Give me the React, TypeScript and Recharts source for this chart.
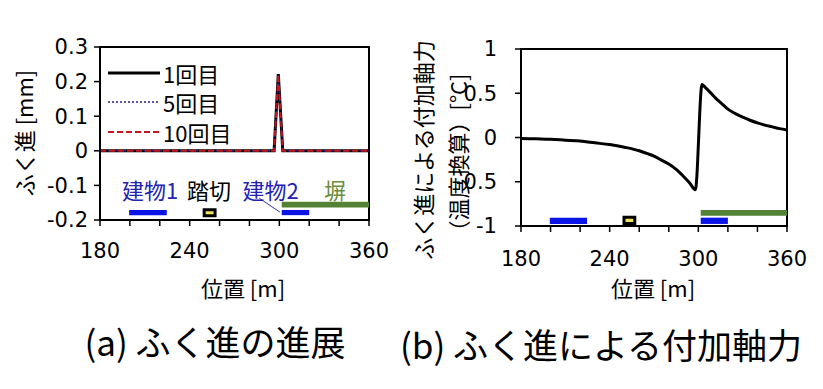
import {
  Legend,
  Line,
  LineChart,
  ReferenceArea,
  ReferenceDot,
  ReferenceLine,
  XAxis,
  YAxis,
} from "recharts";

// (a) ふく進の進展
const positionA = [180, 200, 220, 240, 260, 280, 296.5, 299.3, 302.3, 320, 340, 360];
const creep1 = [0, 0, 0, 0, 0, 0, 0, 0.222, 0, 0, 0, 0];
const creep5 = [0, 0, 0, 0, 0, 0, 0, 0.221, 0, 0, 0, 0];
const creep10 = [0, 0, 0, 0, 0, 0, 0, 0.22, 0, 0, 0, 0];
const seriesNames = ["1回目", "5回目", "10回目"];

// (b) ふく進による付加軸力
const positionB = [
  180, 190, 200, 210, 220, 230, 240, 250, 260, 265, 270, 275, 280, 285, 290, 294, 298,
  302.5, 305, 308, 312, 316, 320, 325, 330, 335, 340, 345, 350, 355, 360,
];
const axialForce = [
  -0.01, -0.015, -0.02, -0.03, -0.04, -0.06, -0.08, -0.11, -0.15, -0.18, -0.21, -0.255,
  -0.3, -0.36, -0.44, -0.51, -0.59, 0.6, 0.56, 0.51, 0.44, 0.38, 0.32, 0.27, 0.23, 0.195,
  0.165, 0.14, 0.12, 0.1, 0.085,
];

const xTicks = [180, 200, 220, 240, 260, 280, 300, 320, 340, 360];
const xLabelTicks = [180, 240, 300, 360];
const yTicksA = [-0.2, -0.1, 0, 0.1, 0.2, 0.3];
const yTicksB = [-1, -0.5, 0, 0.5, 1];

// 構造物の範囲 [m]
const building1 = [199.5, 224.7];
const crossing = [249.7, 257];
const building2 = [301.6, 320];
const wall = [301.6, 360];
const structLabels = ["建物1", "踏切", "建物2", "塀"];
const structLabelX = [213.5, 252.9, 294.1, 337.3];

const JP = '"Noto Sans CJK JP", sans-serif';
const NUM = '"DejaVu Sans", sans-serif';
const BLUE = "#0a14e6";
const GREEN = "#548235";
const YELLOW = "#f0e65a";

const lineStyles = [
  { stroke: "#000", width: 3, dash: undefined },
  { stroke: "#23238c", width: 1.5, dash: "2 2" },
  { stroke: "#c8141e", width: 2, dash: "6 3" },
];
const labelColors = ["#2323b4", "#000", "#2323b4", "#6b8e3f"];

const dataA = positionA.map((x, i) => ({
  x,
  s1: creep1[i],
  s5: creep5[i],
  s10: creep10[i],
}));
const dataB = positionB.map((x, i) => ({ x, v: axialForce[i] }));

const tickStyle = { fontSize: 21, fill: "#000", fontFamily: NUM };
const xFmt = (v: number) => (xLabelTicks.includes(v) ? String(v) : "");

function LegendBox() {
  return (
    <div style={{ fontFamily: JP, fontSize: 22, color: "#000" }}>
      {seriesNames.map((name, i) => (
        <div key={name} style={{ display: "flex", alignItems: "center", height: 29.5 }}>
          <svg width={54} height={10}>
            <line
              x1={0}
              x2={52}
              y1={5}
              y2={5}
              stroke={lineStyles[i].stroke}
              strokeWidth={lineStyles[i].width}
              strokeDasharray={lineStyles[i].dash}
            />
          </svg>
          <span style={{ marginLeft: 1 }}>{name}</span>
        </div>
      ))}
    </div>
  );
}

function ChartA() {
  const keys = ["s1", "s5", "s10"];
  return (
    <LineChart
      width={400}
      height={300}
      data={dataA}
      margin={{ top: 47, right: 31, bottom: 50, left: 40 }}
    >
      <XAxis
        dataKey="x"
        type="number"
        domain={[180, 360]}
        ticks={xTicks}
        tickFormatter={xFmt}
        interval={0}
        height={30}
        tick={tickStyle}
        tickSize={6}
        tickMargin={17}
        axisLine={{ stroke: "#000", strokeWidth: 2 }}
        tickLine={{ stroke: "#000", strokeWidth: 1.5 }}
      />
      <YAxis
        type="number"
        domain={[-0.2, 0.3]}
        ticks={yTicksA}
        interval={0}
        width={60}
        tick={tickStyle}
        tickSize={6}
        tickMargin={6}
        axisLine={{ stroke: "#000", strokeWidth: 2 }}
        tickLine={{ stroke: "#000", strokeWidth: 1.5 }}
      />
      <ReferenceArea x1={180} x2={360} y1={-0.2} y2={0.3} fill="none" stroke="#000" strokeWidth={2} />
      <ReferenceArea x1={building1[0]} x2={building1[1]} y1={-0.186} y2={-0.171} fill={BLUE} fillOpacity={1} />
      <ReferenceArea x1={building2[0]} x2={building2[1]} y1={-0.186} y2={-0.171} fill={BLUE} fillOpacity={1} />
      <ReferenceArea x1={wall[0]} x2={wall[1]} y1={-0.164} y2={-0.147} fill={GREEN} fillOpacity={1} />
      <ReferenceArea
        x1={crossing[0]}
        x2={crossing[1]}
        y1={-0.188}
        y2={-0.1705}
        fill={YELLOW}
        fillOpacity={1}
        stroke="#000"
        strokeWidth={3}
      />
      <ReferenceLine
        segment={[
          { x: 286.6, y: -0.137 },
          { x: 300.5, y: -0.1775 },
        ]}
        stroke="#2b3a8f"
        strokeWidth={1}
      />
      {structLabels.map((name, i) => (
        <ReferenceDot
          key={name}
          x={structLabelX[i]}
          y={-0.117}
          r={0}
          fill="none"
          stroke="none"
          label={{
            value: name,
            position: "center",
            fill: labelColors[i],
            fontSize: 22,
            fontFamily: JP,
          }}
        />
      ))}
      {keys.map((k, i) => (
        <Line
          key={k}
          dataKey={k}
          name={seriesNames[i]}
          type="linear"
          stroke={lineStyles[i].stroke}
          strokeWidth={lineStyles[i].width}
          strokeDasharray={lineStyles[i].dash}
          dot={false}
          isAnimationActive={false}
        />
      ))}
      <Legend
        layout="vertical"
        align="center"
        verticalAlign="middle"
        wrapperStyle={{ left: 108, top: 58, width: "auto" }}
        content={() => <LegendBox />}
      />
    </LineChart>
  );
}

function ChartB() {
  return (
    <LineChart
      width={423}
      height={300}
      data={dataB}
      margin={{ top: 49, right: 36, bottom: 44, left: 71 }}
    >
      <XAxis
        dataKey="x"
        type="number"
        domain={[180, 360]}
        ticks={xTicks}
        tickFormatter={xFmt}
        interval={0}
        height={30}
        tick={tickStyle}
        tickSize={6}
        tickMargin={19}
        axisLine={{ stroke: "#000", strokeWidth: 2 }}
        tickLine={{ stroke: "#000", strokeWidth: 1.5 }}
      />
      <YAxis
        type="number"
        domain={[-1, 1]}
        ticks={yTicksB}
        interval={0}
        width={50}
        tick={tickStyle}
        tickSize={6}
        tickMargin={18}
        axisLine={{ stroke: "#000", strokeWidth: 2 }}
        tickLine={{ stroke: "#000", strokeWidth: 1.5 }}
      />
      <ReferenceArea x1={180} x2={360} y1={-1} y2={1} fill="none" stroke="#000" strokeWidth={2} />
      <ReferenceArea x1={building1[0]} x2={building1[1]} y1={-0.977} y2={-0.906} fill={BLUE} fillOpacity={1} />
      <ReferenceArea x1={building2[0]} x2={building2[1]} y1={-0.977} y2={-0.906} fill={BLUE} fillOpacity={1} />
      <ReferenceArea x1={wall[0]} x2={wall[1]} y1={-0.884} y2={-0.819} fill={GREEN} fillOpacity={1} />
      <ReferenceArea
        x1={crossing[0]}
        x2={crossing[1]}
        y1={-0.972}
        y2={-0.9}
        fill={YELLOW}
        fillOpacity={1}
        stroke="#000"
        strokeWidth={3}
      />
      <Line
        dataKey="v"
        type="monotone"
        stroke="#000"
        strokeWidth={3}
        strokeLinejoin="round"
        dot={false}
        isAnimationActive={false}
      />
    </LineChart>
  );
}

export default function App() {
  return (
    <div
      style={{
        position: "absolute",
        left: 0,
        top: 0,
        width: 823,
        height: 389,
        background: "#fff",
        overflow: "hidden",
      }}
    >
      <div style={{ position: "absolute", left: 0, top: 0 }}>
        <ChartA />
      </div>
      <div style={{ position: "absolute", left: 400, top: 0 }}>
        <ChartB />
      </div>
      <svg
        width={823}
        height={389}
        style={{ position: "absolute", left: 0, top: 0, pointerEvents: "none" }}
        fontFamily={JP}
        fill="#000"
      >
        <text x={23} y={133} fontSize={22} textAnchor="middle" dominantBaseline="central" transform="rotate(-90 23 133)">
          ふく進 [mm]
        </text>
        <text x={422} y={150} fontSize={22} textAnchor="middle" dominantBaseline="central" transform="rotate(-90 422 150)">
          ふく進による付加軸力
        </text>
        <text x={457} y={158} fontSize={22} textAnchor="middle" dominantBaseline="central" transform="rotate(-90 457 158)">
          （温度換算）[°C]
        </text>
        <text x={243} y={287} fontSize={22} textAnchor="middle" dominantBaseline="central">
          位置 [m]
        </text>
        <text x={653} y={287} fontSize={22} textAnchor="middle" dominantBaseline="central">
          位置 [m]
        </text>
        <text x={215} y={340} fontSize={35} textAnchor="middle" dominantBaseline="central">
          (a) ふく進の進展
        </text>
        <text x={601} y={343} fontSize={35} textAnchor="middle" dominantBaseline="central">
          (b) ふく進による付加軸力
        </text>
      </svg>
    </div>
  );
}
